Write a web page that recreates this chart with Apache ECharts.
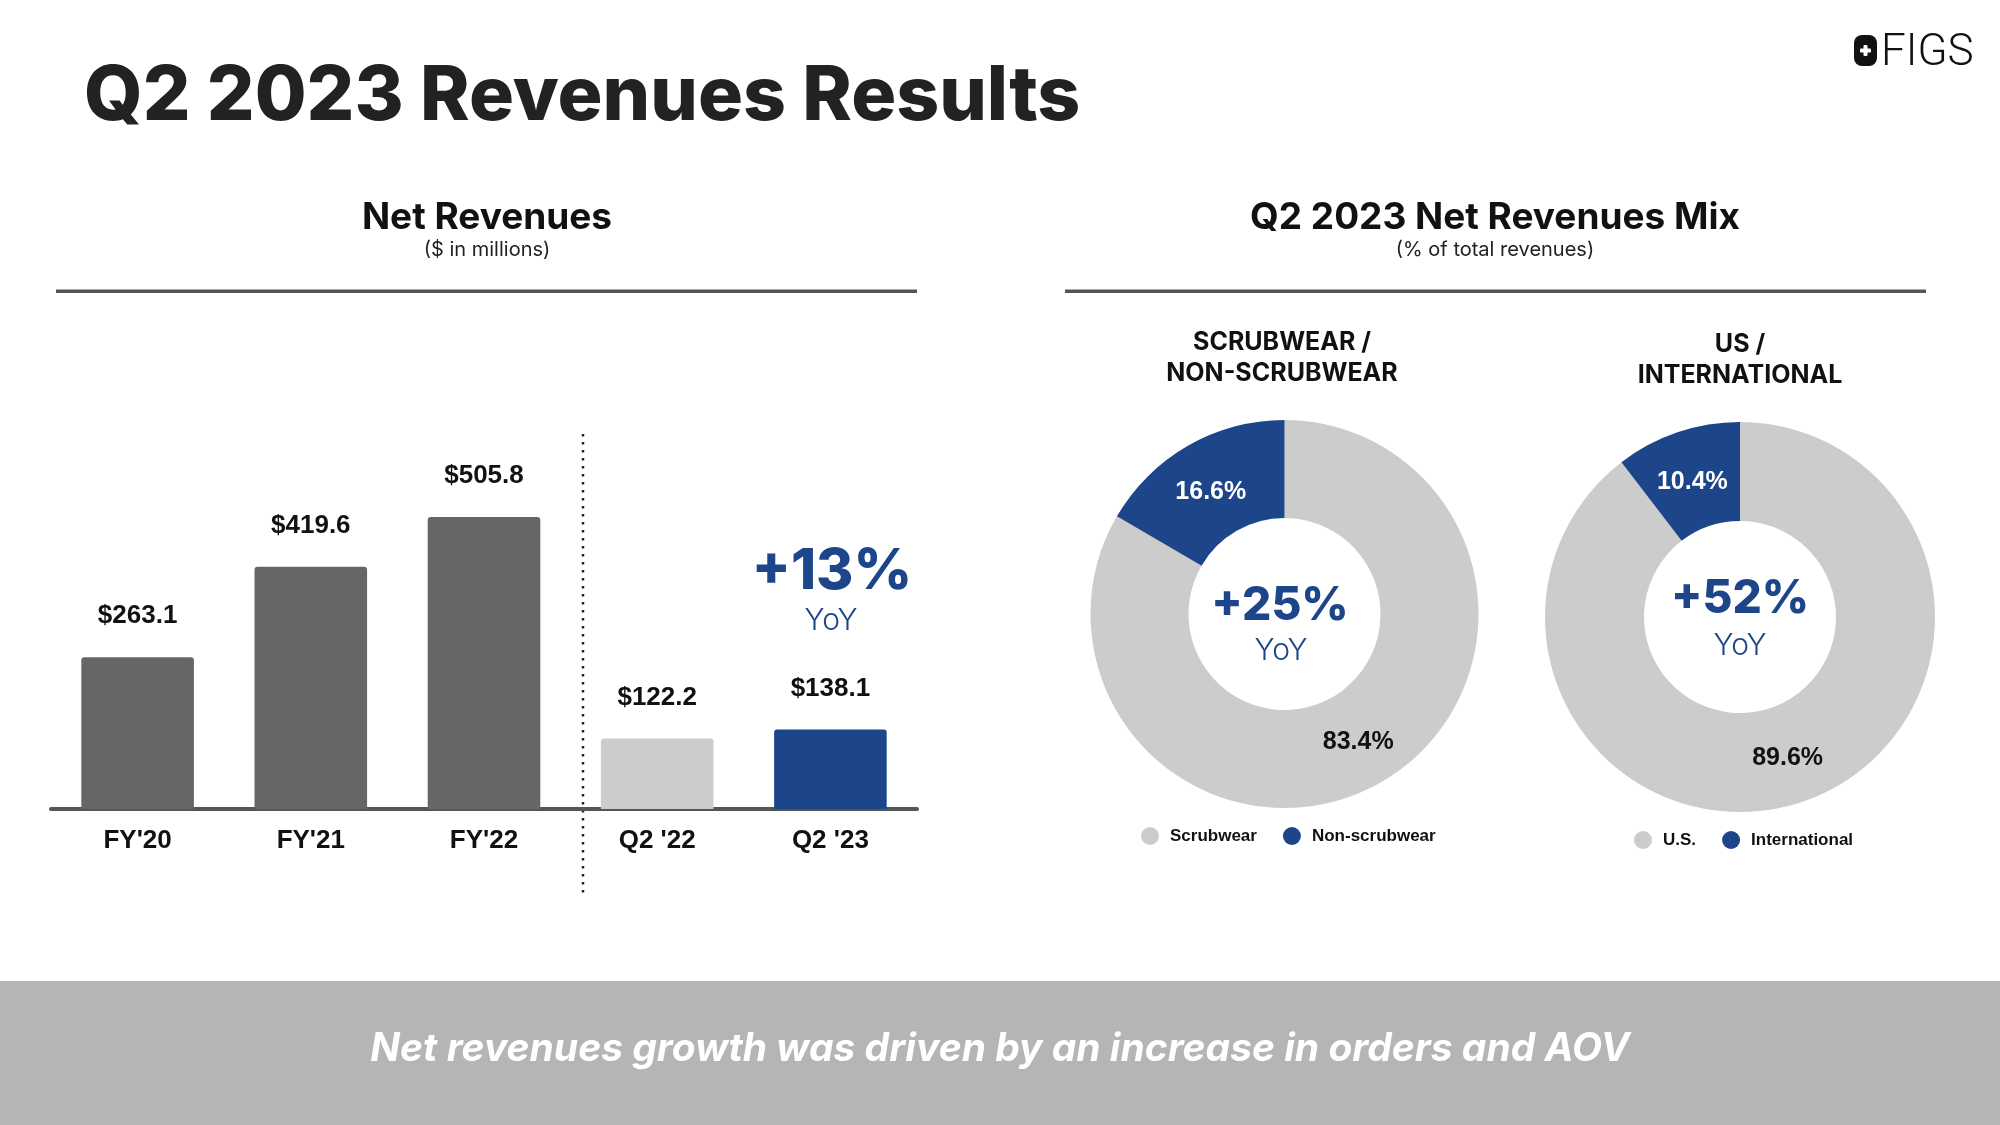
<!DOCTYPE html>
<html><head><meta charset="utf-8">
<script src="https://cdn.jsdelivr.net/npm/echarts@6/dist/echarts.min.js"></script>
<style>html,body{margin:0;padding:0;background:#fff}#c{width:2000px;height:1125px}</style>
</head><body><div id="c"></div>
<script>
// ---- data ----
const categories = ["FY'20", "FY'21", "FY'22", "Q2 '22", "Q2 '23"];
const revenues = [263.1, 419.6, 505.8, 122.2, 138.1];
const productMixNames = ['Scrubwear', 'Non-scrubwear'];
const productMixValues = [83.4, 16.6];
const regionMixNames = ['U.S.', 'International'];
const regionMixValues = [89.6, 10.4];
const revenueGrowth = '+13%';
const nonScrubGrowth = '+25%';
const intlGrowth = '+52%';

// ---- styles ----
const barColors = ['#666666', '#666666', '#666666', '#cccccc', '#1d4589'];
const NAVY = '#1d4589';
const LIGHT = '#cccccc';
const HEAD = 'Inter, "Open Sans", sans-serif';
const ARIAL = '"Liberation Sans", Arial, sans-serif';

const chart = echarts.init(document.getElementById('c'), null, {renderer: 'canvas'});

function txt(x, y, text, size, weight, color, family, extra) {
  return {
    type: 'text', x: x, y: y, silent: true,
    style: Object.assign({text: text, fontSize: size, fontWeight: weight, fill: color,
      fontFamily: family || HEAD, align: 'center', verticalAlign: 'middle'}, extra || {})
  };
}

const sliceLabel = (i) => (i === 0 ? {color: '#111111'} : {color: '#ffffff', offset: [0, 6]});

const option = {
  animation: false,
  backgroundColor: '#ffffff',
  grid: {left: 51, width: 866, top: 405, height: 404.1, containLabel: false},
  xAxis: {
    type: 'category', data: categories,
    axisLine: {show: true, lineStyle: {color: '#555555', width: 4}},
    axisTick: {show: false},
    axisLabel: {margin: 19, fontFamily: ARIAL, fontWeight: 'bold', fontSize: 26, color: '#111111'}
  },
  yAxis: {type: 'value', min: 0, max: 700, show: false, splitLine: {show: false}},
  legend: [
    {
      data: productMixNames, left: 1136, top: 822, icon: 'circle', itemWidth: 18, itemHeight: 18,
      itemGap: 26, selectedMode: false,
      textStyle: {fontFamily: ARIAL, fontWeight: 'bold', fontSize: 17, color: '#111111', padding: [0, 0, 0, 6]}
    },
    {
      data: regionMixNames, left: 1629, top: 826, icon: 'circle', itemWidth: 18, itemHeight: 18,
      itemGap: 26, selectedMode: false,
      textStyle: {fontFamily: ARIAL, fontWeight: 'bold', fontSize: 17, color: '#111111', padding: [0, 0, 0, 6]}
    }
  ],
  series: [
    {
      type: 'bar', data: revenues.map((v, i) => ({value: v, itemStyle: {color: barColors[i]}})),
      barWidth: '65%', silent: true,
      itemStyle: {borderRadius: [3, 3, 0, 0]},
      label: {show: true, position: 'top', distance: 28, formatter: p => '$' + p.value.toFixed(1),
        fontFamily: ARIAL, fontWeight: 'bold', fontSize: 26, color: '#111111'}
    },
    {
      type: 'pie', center: [1284.5, 614], radius: [96, 194], startAngle: 90, clockwise: true,
      silent: true, color: [LIGHT, NAVY],
      data: productMixNames.map((n, i) => ({name: n, value: productMixValues[i], label: sliceLabel(i)})),
      label: {show: true, position: 'inside', formatter: p => p.value.toFixed(1) + '%',
        fontFamily: ARIAL, fontWeight: 'bold', fontSize: 25},
      labelLine: {show: false}, emphasis: {disabled: true}
    },
    {
      type: 'pie', center: [1740, 617], radius: [96, 195], startAngle: 90, clockwise: true,
      silent: true, color: [LIGHT, NAVY],
      data: regionMixNames.map((n, i) => ({name: n, value: regionMixValues[i], label: sliceLabel(i)})),
      label: {show: true, position: 'inside', formatter: p => p.value.toFixed(1) + '%',
        fontFamily: ARIAL, fontWeight: 'bold', fontSize: 25},
      labelLine: {show: false}, emphasis: {disabled: true}
    }
  ],
  graphic: [
    // main title
    txt(84, 97, 'Q2 2023 Revenues Results', 75, 800, '#222222', HEAD, {align: 'left'}),
    // logo
    {type: 'rect', x: 1854, y: 35, shape: {width: 23, height: 31, r: 8}, style: {fill: '#111111'}, silent: true},
    {type: 'rect', x: 1860, y: 48.5, shape: {width: 11, height: 4, r: 1}, style: {fill: '#ffffff'}, silent: true},
    {type: 'rect', x: 1863.5, y: 45, shape: {width: 4, height: 11, r: 1}, style: {fill: '#ffffff'}, silent: true},
    txt(1881, 54, 'FIGS', 44, 300, '#111111', 'Roboto, sans-serif', {align: 'left'}),
    // section headings
    txt(487, 218, 'Net Revenues', 37, 700, '#111111'),
    txt(487, 250, '($ in millions)', 20, 400, '#222222'),
    txt(1495, 218, 'Q2 2023 Net Revenues Mix', 37, 700, '#111111'),
    txt(1495, 250, '(% of total revenues)', 20, 400, '#222222'),
    // rules
    {type: 'rect', x: 56, y: 289.5, shape: {width: 861, height: 3.5}, style: {fill: '#555555'}, silent: true},
    {type: 'rect', x: 1065, y: 289.5, shape: {width: 861, height: 3.5}, style: {fill: '#555555'}, silent: true},
    // dotted divider
    {type: 'line', shape: {x1: 583, y1: 434, x2: 583, y2: 894},
      style: {stroke: '#222222', lineWidth: 2.5, lineDash: [2.5, 5.5]}, silent: true},
    // growth callouts
    txt(832, 572, revenueGrowth, 57, 800, NAVY),
    txt(831, 621, 'YoY', 30, 300, NAVY),
    txt(1280, 606, nonScrubGrowth, 46, 800, NAVY),
    txt(1281, 651, 'YoY', 30, 300, NAVY),
    txt(1740, 599, intlGrowth, 46, 800, NAVY),
    txt(1740, 646, 'YoY', 30, 300, NAVY),
    // donut titles
    txt(1282, 342, 'SCRUBWEAR /', 25, 700, '#111111'),
    txt(1282, 373, 'NON-SCRUBWEAR', 25, 700, '#111111'),
    txt(1740, 344, 'US /', 25, 700, '#111111'),
    txt(1740, 375, 'INTERNATIONAL', 25, 700, '#111111'),
    // bottom band
    {type: 'rect', x: 0, y: 981, shape: {width: 2000, height: 144}, style: {fill: '#b5b5b5'}, silent: true},
    txt(1000, 1049, 'Net revenues growth was driven by an increase in orders and AOV', 39, 700, '#ffffff', HEAD,
      {fontStyle: 'italic'})
  ]
};
chart.setOption(option);
</script>
</body></html>
